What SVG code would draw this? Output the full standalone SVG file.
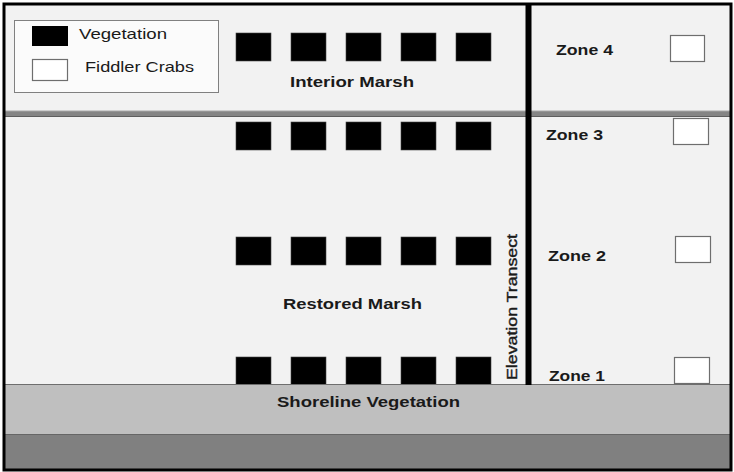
<svg xmlns="http://www.w3.org/2000/svg" width="734" height="472" viewBox="0 0 734 472">
<style>
.veg{fill:#000;stroke:#444;stroke-width:0.6}
.crab{fill:#fff;stroke:#6e6e6e;stroke-width:1.2}
.lbl{font-family:"Liberation Sans",Arial,sans-serif;font-weight:bold;font-size:15px;fill:#1a1a1a}
.leg{font-family:"Liberation Sans",Arial,sans-serif;font-size:15px;fill:#1a1a1a}
</style>
<defs>
<rect id="v" class="veg" width="35" height="28"/>
<g id="vrow">
<use href="#v" x="236"/><use href="#v" x="291"/><use href="#v" x="346"/><use href="#v" x="401"/><use href="#v" x="456"/>
</g>
</defs>
<rect x="0" y="0" width="734" height="472" fill="#ffffff"/>
<g id="interior-marsh">
<rect x="4" y="4" width="727" height="108" fill="#f2f2f2"/>
<use href="#vrow" y="33"/>
<text class="lbl" x="290" y="87" textLength="124" lengthAdjust="spacingAndGlyphs">Interior Marsh</text>
</g>
<g id="restored-marsh">
<rect x="4" y="117" width="727" height="268" fill="#f2f2f2"/>
<use href="#vrow" y="122"/>
<use href="#vrow" y="237"/>
<use href="#vrow" y="357"/>
<text class="lbl" x="283" y="309" textLength="139" lengthAdjust="spacingAndGlyphs">Restored Marsh</text>
</g>
<g id="divider">
<rect x="4" y="111" width="727" height="6" fill="#858585"/>
<line x1="4" y1="111" x2="731" y2="111" stroke="#a8a8a8" stroke-width="1"/>
<line x1="4" y1="116.5" x2="731" y2="116.5" stroke="#5e5e5e" stroke-width="1"/>
</g>
<g id="shoreline-vegetation">
<rect x="4" y="384" width="727" height="50" fill="#bfbfbf"/>
<line x1="4" y1="384.5" x2="731" y2="384.5" stroke="#6e6e6e" stroke-width="1"/>
<text class="lbl" x="277" y="407" textLength="183" lengthAdjust="spacingAndGlyphs">Shoreline Vegetation</text>
</g>
<g id="water">
<rect x="4" y="434" width="727" height="36" fill="#808080"/>
<line x1="4" y1="434.5" x2="731" y2="434.5" stroke="#666" stroke-width="1"/>
</g>
<g id="legend">
<rect x="14.5" y="20.5" width="204" height="72" fill="#fbfbfb" stroke="#808080" stroke-width="1"/>
<rect x="32" y="26" width="36" height="20" fill="#000"/>
<rect class="crab" x="32.5" y="59.5" width="35" height="21"/>
<text class="leg" x="79" y="39" textLength="88" lengthAdjust="spacingAndGlyphs">Vegetation</text>
<text class="leg" x="85" y="72" textLength="109" lengthAdjust="spacingAndGlyphs">Fiddler Crabs</text>
</g>
<g id="connectors">
<line id="elevation-transect" x1="528.5" y1="5" x2="528.5" y2="385" stroke="#000" stroke-width="6"/>
<text class="leg" transform="translate(517,380) rotate(-90)" x="0" y="0" textLength="146" lengthAdjust="spacingAndGlyphs" font-size="19" stroke="#1a1a1a" stroke-width="0.4">Elevation Transect</text>
</g>
<g id="zone4">
<text class="lbl" x="556" y="55" textLength="57" lengthAdjust="spacingAndGlyphs">Zone 4</text>
<rect class="crab" x="670.5" y="35.5" width="34" height="26"/>
</g>
<g id="zone3">
<text class="lbl" x="546" y="140" textLength="57" lengthAdjust="spacingAndGlyphs">Zone 3</text>
<rect class="crab" x="673.5" y="118.5" width="35" height="26"/>
</g>
<g id="zone2">
<text class="lbl" x="548" y="261" textLength="58" lengthAdjust="spacingAndGlyphs">Zone 2</text>
<rect class="crab" x="675.5" y="236.5" width="35" height="26"/>
</g>
<g id="zone1">
<text class="lbl" x="549" y="381" textLength="56" lengthAdjust="spacingAndGlyphs">Zone 1</text>
<rect class="crab" x="674.5" y="357.5" width="35" height="26"/>
</g>
<rect x="4" y="4" width="727" height="466" fill="none" stroke="#000" stroke-width="3"/>
</svg>
